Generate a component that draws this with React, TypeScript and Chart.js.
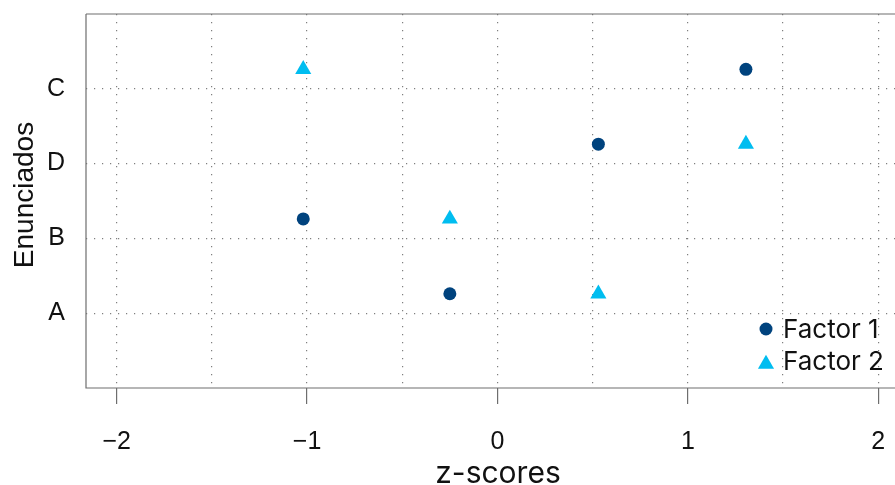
import React, { useEffect, useRef } from "react";
import { Chart, registerables } from "chart.js";

Chart.register(...registerables);

// Categories from bottom (1) to top (4)
const categories = ["A", "B", "D", "C"];
const factor1 = [-0.25, -1.02, 0.53, 1.305];
const factor2 = [0.53, -0.25, 1.305, -1.02];
const seriesNames = ["Factor 1", "Factor 2"];
const seriesColors = ["#00437e", "#00bdf0"];
const xTickLabels: Record<string, string> = { "-2": "\u22122", "-1": "\u22121", "0": "0", "1": "1", "2": "2" };
const xGridValues = [-2, -1.5, -1, -0.5, 0, 0.5, 1, 1.5, 2];
const yTickValues = [1, 2, 3, 4];
const POINT_OFFSET = 0.26; // points sit slightly above their category line
const X_MIN = -2.161;
const X_MAX = 2.088;
const xTitle = "z-scores";
const yTitle = "Enunciados";

const SANS = "'Liberation Sans', Arial, sans-serif";
const GROT = "Inter, 'Liberation Sans', sans-serif";

const zeroPad = (scale: any) => {
  scale.paddingLeft = 0;
  scale.paddingRight = 0;
  scale.paddingTop = 0;
  scale.paddingBottom = 0;
};

export default function App() {
  const ref = useRef<HTMLCanvasElement | null>(null);

  useEffect(() => {
    if (!ref.current) return;
    const decor = {
      id: "decor",
      afterDraw(chart: any) {
        const { ctx, chartArea } = chart;
        const { left, top, right, bottom } = chartArea;
        ctx.save();
        // box border
        ctx.strokeStyle = "#6e6e6e";
        ctx.lineWidth = 1.2;
        ctx.beginPath();
        ctx.moveTo(left, top);
        ctx.lineTo(right + 2, top);
        ctx.moveTo(left, top);
        ctx.lineTo(left, bottom);
        ctx.lineTo(right + 2, bottom);
        ctx.stroke();

        // axis titles
        ctx.fillStyle = "#111";
        ctx.font = `30px ${GROT}`;
        ctx.textAlign = "center";
        ctx.textBaseline = "alphabetic";
        ctx.fillText(xTitle, 498, 483);

        ctx.save();
        ctx.translate(33, 195);
        ctx.rotate(-Math.PI / 2);
        ctx.font = `28px ${SANS}`;
        ctx.fillText(yTitle, 0, 0);
        ctx.restore();

        // legend
        const lx = 766;
        const rows = [329, 364];
        chart.data.datasets.forEach((ds: any, i: number) => {
          const cy = rows[i];
          ctx.fillStyle = ds.backgroundColor;
          ctx.beginPath();
          if (ds.pointStyle === "triangle") {
            const r = 9.3;
            ctx.moveTo(lx, cy - r);
            ctx.lineTo(lx + r * Math.sin((2 * Math.PI) / 3), cy + r / 2);
            ctx.lineTo(lx - r * Math.sin((2 * Math.PI) / 3), cy + r / 2);
            ctx.closePath();
          } else {
            ctx.arc(lx, cy, 6.5, 0, Math.PI * 2);
          }
          ctx.fill();
          ctx.fillStyle = "#111";
          ctx.font = `26px ${GROT}`;
          ctx.textAlign = "left";
          ctx.textBaseline = "alphabetic";
          ctx.fillText(ds.label, 783, i === 0 ? 338 : 370);
        });
        ctx.restore();
      },
    };

    const chart = new Chart(ref.current, {
      type: "scatter",
      data: {
        datasets: [
          {
            label: seriesNames[0],
            data: factor1.map((v, i) => ({ x: v, y: i + 1 + POINT_OFFSET })),
            backgroundColor: seriesColors[0],
            borderColor: seriesColors[0],
            pointStyle: "circle",
            pointRadius: 6.5,
            pointBorderWidth: 0,
          },
          {
            label: seriesNames[1],
            data: factor2.map((v, i) => ({ x: v, y: i + 1 + POINT_OFFSET })),
            backgroundColor: seriesColors[1],
            borderColor: seriesColors[1],
            pointStyle: "triangle",
            pointRadius: 9.3,
            pointBorderWidth: 0,
          },
        ],
      },
      options: {
        responsive: false,
        animation: false,
        layout: { padding: { top: 14, left: 0, right: 0, bottom: 0 }, autoPadding: false },
        plugins: { legend: { display: false }, tooltip: { enabled: false } },
        scales: {
          x: {
            type: "linear",
            min: X_MIN,
            max: X_MAX,
            afterBuildTicks: (scale: any) => {
              scale.ticks = xGridValues.map((v) => ({ value: v }));
            },
            afterFit: (scale: any) => {
              scale.height = 97;
              zeroPad(scale);
            },
            grid: {
              color: "#7f7f7f",
              lineWidth: 1.2,
              drawTicks: true,
              tickLength: 16,
              tickColor: (c: any) => (Number.isInteger(c.tick?.value) ? "#6e6e6e" : "rgba(0,0,0,0)"),
              tickWidth: 1.2,
              tickBorderDash: [],
            },
            border: { display: false, dash: [1.2, 6.8] },
            ticks: {
              autoSkip: false,
              maxRotation: 0,
              padding: 23,
              color: "#111",
              font: { family: SANS, size: 25 },
              callback: (v: any) => xTickLabels[String(v)] ?? "",
            },
          },
          y: {
            type: "linear",
            min: 0,
            max: 5,
            afterBuildTicks: (scale: any) => {
              scale.ticks = yTickValues.map((v) => ({ value: v }));
            },
            afterFit: (scale: any) => {
              scale.width = 86;
              zeroPad(scale);
            },
            grid: {
              color: "#7f7f7f",
              lineWidth: 1.2,
              drawTicks: false,
            },
            border: { display: false, dash: [1.2, 6.8] },
            ticks: {
              autoSkip: false,
              padding: 21,
              color: "#111",
              font: { family: SANS, size: 25 },
              callback: (v: any) => categories[Number(v) - 1] ?? "",
            },
          },
        },
      },
      plugins: [decor],
    } as any);

    return () => chart.destroy();
  }, []);

  return (
    <div style={{ position: "fixed", left: 0, top: 0, width: 895, height: 485, background: "#fff" }}>
      <canvas ref={ref} width={895} height={485} style={{ display: "block" }} />
    </div>
  );
}
